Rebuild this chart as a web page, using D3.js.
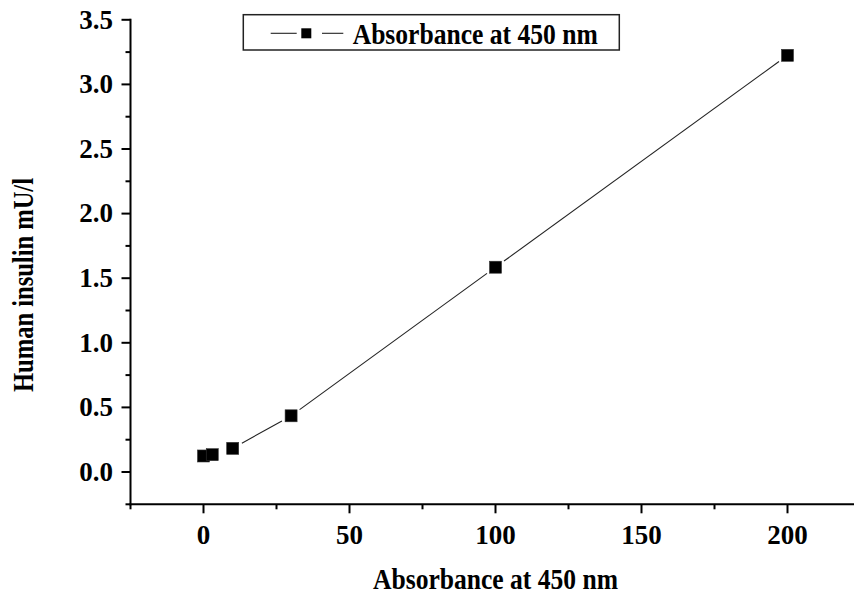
<!DOCTYPE html>
<html>
<head>
<meta charset="utf-8">
<script src="https://cdn.jsdelivr.net/npm/d3@7"></script>
<style>
  html, body { margin: 0; padding: 0; background: #fff; }
  svg { display: block; }
  text { font-family: "Liberation Serif", "Times New Roman", serif; font-weight: bold; fill: #000; }
</style>
</head>
<body>
<svg id="chart" width="854" height="594"></svg>
<script>
// Calibration points: standard concentration vs. measured value
const xValues = [0, 3, 10, 30, 100, 200];
const yValues = [0.124, 0.134, 0.183, 0.435, 1.585, 3.225];
const xTicks = [0, 50, 100, 150, 200];
const yTicks = [0.0, 0.5, 1.0, 1.5, 2.0, 2.5, 3.0, 3.5];
const seriesName = "Absorbance at 450 nm";
const xTitle = "Absorbance at 450 nm";
const yTitle = "Human insulin mU/l";

const svg = d3.select("#chart");
const left = 130.5, bottom = 504.3;
const x = d3.scaleLinear().domain([-25, 225]).range([left, left + 730]);
const y = d3.scaleLinear().domain([-0.25, 3.5]).range([bottom, 19.8]);

// Minor ticks between majors
const xMinor = d3.range(-25, 226, 25).filter(v => !xTicks.includes(v));
const yMinor = d3.range(-0.25, 3.51, 0.25).map(v => +v.toFixed(2)).filter(v => !yTicks.includes(v));

const axes = svg.append("g").attr("stroke", "#000").attr("stroke-width", 2);
// Y axis
axes.append("line").attr("x1", left).attr("x2", left).attr("y1", y(3.5) - 1).attr("y2", bottom + 1);
axes.selectAll(".ymaj").data(yTicks).join("line")
  .attr("x1", left - 9).attr("x2", left).attr("y1", d => y(d)).attr("y2", d => y(d));
axes.selectAll(".ymin").data(yMinor).join("line")
  .attr("x1", left - 5).attr("x2", left).attr("y1", d => y(d)).attr("y2", d => y(d));
// X axis
axes.append("line").attr("x1", left - 1).attr("x2", x(225)).attr("y1", bottom).attr("y2", bottom);
axes.selectAll(".xmaj").data(xTicks).join("line")
  .attr("x1", d => x(d)).attr("x2", d => x(d)).attr("y1", bottom).attr("y2", bottom + 9);
axes.selectAll(".xmin").data(xMinor).join("line")
  .attr("x1", d => x(d)).attr("x2", d => x(d)).attr("y1", bottom).attr("y2", bottom + 5);

// Tick labels
svg.append("g").selectAll("text").data(yTicks).join("text")
  .attr("x", 113).attr("y", d => y(d) + 8.8)
  .attr("text-anchor", "end").attr("font-size", 27)
  .text(d => d3.format(".1f")(d));
svg.append("g").selectAll("text").data(xTicks).join("text")
  .attr("x", d => x(d)).attr("y", 544)
  .attr("text-anchor", "middle").attr("font-size", 27)
  .text(d => d);

// Axis titles
svg.append("text").attr("x", 495.5).attr("y", 589)
  .attr("text-anchor", "middle").attr("font-size", 29)
  .attr("textLength", 245).attr("lengthAdjust", "spacingAndGlyphs")
  .text(xTitle);
svg.append("text").attr("transform", "translate(33,285) rotate(-90)")
  .attr("text-anchor", "middle").attr("font-size", 29)
  .attr("textLength", 214).attr("lengthAdjust", "spacingAndGlyphs")
  .text(yTitle);

// Connecting line, broken around each marker
const pts = xValues.map((v, i) => [x(v), y(yValues[i])]);
const gap = 10.5;
const segs = [];
for (let i = 0; i < pts.length - 1; i++) {
  const [x1, y1] = pts[i], [x2, y2] = pts[i + 1];
  const len = Math.hypot(x2 - x1, y2 - y1);
  if (len <= 2 * gap + 1) continue;
  const ux = (x2 - x1) / len, uy = (y2 - y1) / len;
  segs.push([x1 + ux * gap, y1 + uy * gap, x2 - ux * gap, y2 - uy * gap]);
}
svg.append("g").selectAll("line").data(segs).join("line")
  .attr("x1", d => d[0]).attr("y1", d => d[1]).attr("x2", d => d[2]).attr("y2", d => d[3])
  .attr("stroke", "#222").attr("stroke-width", 1.1);

// Square markers
const ms = 12;
svg.append("g").selectAll("rect").data(pts).join("rect")
  .attr("x", d => d[0] - ms / 2).attr("y", d => d[1] - ms / 2)
  .attr("width", ms).attr("height", ms)
  .attr("fill", "#000").attr("stroke", "#333").attr("stroke-width", 0.6);

// Legend
const lg = svg.append("g");
lg.append("rect").attr("x", 243.3).attr("y", 14.7).attr("width", 376).attr("height", 35.3)
  .attr("fill", "#fff").attr("stroke", "#222").attr("stroke-width", 1.5);
lg.append("line").attr("x1", 270.7).attr("x2", 296.7).attr("y1", 33.3).attr("y2", 33.3)
  .attr("stroke", "#222").attr("stroke-width", 1.1);
lg.append("line").attr("x1", 322).attr("x2", 343.3).attr("y1", 33.3).attr("y2", 33.3)
  .attr("stroke", "#222").attr("stroke-width", 1.1);
lg.append("rect").attr("x", 306.3 - 5).attr("y", 33.3 - 5).attr("width", 10).attr("height", 10)
  .attr("fill", "#000");
lg.append("text").attr("x", 352.7).attr("y", 44).attr("font-size", 29)
  .attr("textLength", 245).attr("lengthAdjust", "spacingAndGlyphs")
  .text(seriesName);
</script>
</body>
</html>
